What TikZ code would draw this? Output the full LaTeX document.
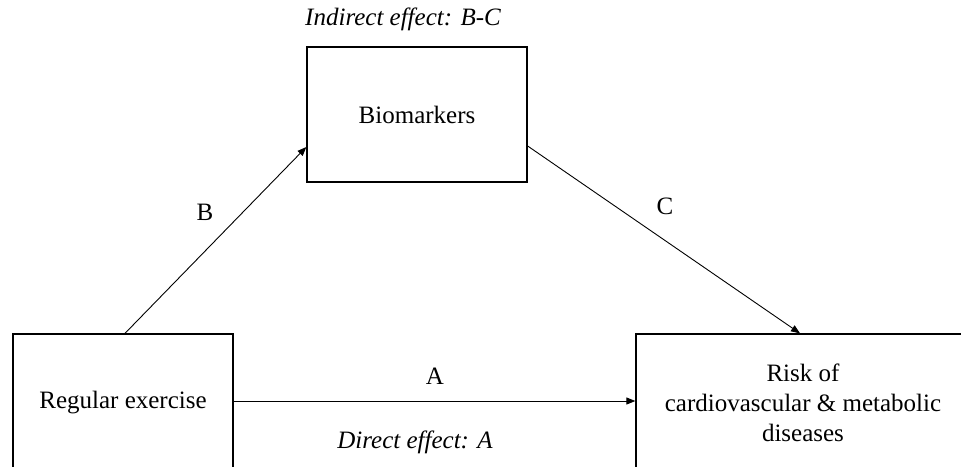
\documentclass[tikz,border=0pt]{standalone}
\usepackage{fontspec}
\setmainfont{Liberation Serif}
\usetikzlibrary{arrows.meta}
\begin{document}
\begin{tikzpicture}[x=1pt,y=-1pt,
  box/.style={draw=black, line width=1.3pt, inner sep=0pt, align=center,
              font=\fontsize{25}{30}\selectfont},
  lbl/.style={font=\fontsize{25}{30}\selectfont, inner sep=0pt},
  conn/.style={line width=0.9pt, -{Triangle[length=9pt,width=7pt]}}]
\useasboundingbox (0,0) rectangle (961,466);
\clip (0,0) rectangle (961,466);
\fill[white] (0,0) rectangle (961,466);
\node[box, minimum width=220pt, minimum height=135pt] (bio) at (417,114.5) {Biomarkers};
\node[box, minimum width=220pt, minimum height=138pt] (reg) at (123,403) {Regular exercise};
\node[box, minimum width=334pt, minimum height=138pt] (risk) at (803,403) {Risk of\\cardiovascular \& metabolic\\diseases};
\draw[conn] ([xshift=2pt]reg.north) -- ([yshift=-32.5pt]bio.west);
\draw[conn] ([yshift=-31.5pt]bio.east) -- ([xshift=-3pt]risk.north);
\draw[conn] ([yshift=2pt]reg.east) -- ([yshift=2pt]risk.west);
\node[lbl] (lb) at (205,212) {B};
\node[lbl] (lc) at (665,206) {C};
\node[lbl] (la) at (435,376) {A};
\node[lbl, font=\fontsize{25}{30}\selectfont\itshape] (ind) at (403,19) {Indirect effect: B-C};
\node[lbl, font=\fontsize{25}{30}\selectfont\itshape] (dir) at (415,442) {Direct effect: A};
\end{tikzpicture}
\end{document}
